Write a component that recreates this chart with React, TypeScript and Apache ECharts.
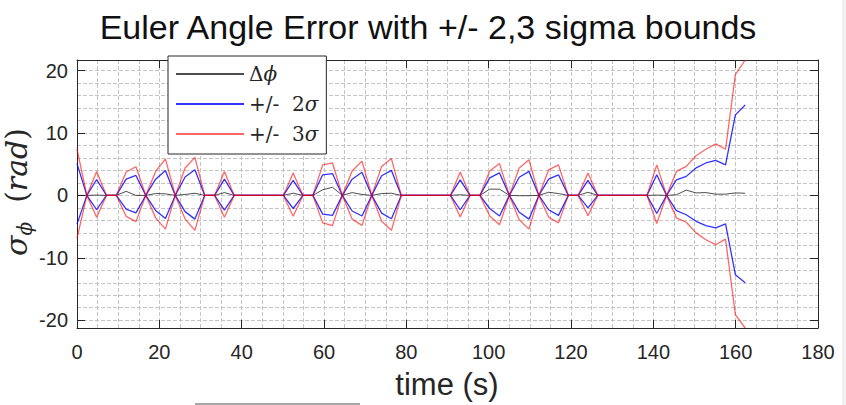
import React, { useEffect, useRef } from 'react';
import * as echarts from 'echarts';

// time stamps (s)
const times = [
  0, 2.39, 4.77, 7.16, 9.55, 11.94, 14.32, 16.71, 19.1, 21.48,
  23.87, 26.26, 28.64, 31.03, 33.42, 35.81, 38.19, 40.58, 42.97, 45.35,
  47.74, 50.13, 52.51, 54.9, 57.29, 59.68, 62.06, 64.45, 66.84, 69.22,
  71.61, 74.0, 76.38, 78.77, 81.16, 83.55, 85.93, 88.32, 90.71, 93.09,
  95.48, 97.87, 100.25, 102.64, 105.03, 107.42, 109.8, 112.19, 114.58, 116.96,
  119.35, 121.74, 124.12, 126.51, 128.9, 131.29, 133.67, 136.06, 138.45, 140.83,
  143.22, 145.61, 147.99, 150.38, 152.77, 155.16, 157.54, 159.93, 162.32,
];

// Δφ error
const deltaPhi = [
  0, 0, 0.05, 0, 0, 0.65, 0, 0, 0.3, 0.25,
  0, 0.15, 0.35, 0, 0, 0.45, 0, 0, 0, 0,
  0, 0, 0.35, 0, 0, 0.9, 1.3, 0, 0.45, 0.15,
  0, 0.3, 0.35, 0, 0, 0, 0, 0, 0, 0.1,
  0, 0, 1.0, 1.0, 0, -0.05, -0.05, 0, 0.5, 0.3,
  0, 0, 0.5, 0, 0, 0, 0, 0, 0, 0.05,
  0, 0.1, 0.85, 0.4, 0.45, 0.2, 0.2, 0.4, 0.35,
];

// +2 sigma bound
const sigma2Upper = [
  5.1, 0, 2.55, 0, 0, 2.6, 3.2, 0, 2.6, 4.0,
  0, 2.95, 4.1, 0, 0, 2.6, 0, 0, 0, 0,
  0, 0, 2.4, 0, 0, 3.3, 3.5, 0, 2.6, 3.7,
  0, 3.15, 4.0, 0, 0, 0, 0, 0, 0, 2.5,
  0, 0, 2.8, 3.6, 0, 2.9, 3.85, 0, 2.6, 3.3,
  0, 0, 2.4, 0, 0, 0, 0, 0, 0, 3.3,
  0, 2.5, 3.05, 4.4, 5.2, 5.6, 4.9, 12.9, 14.5,
];

// -2 sigma bound
const sigma2Lower = [
  -4.6, 0, -2.3, 0, 0, -2.2, -2.8, 0, -2.4, -3.7,
  0, -2.6, -3.8, 0, 0, -2.35, 0, 0, 0, 0,
  0, 0, -2.1, 0, 0, -3.0, -3.2, 0, -2.5, -3.3,
  0, -2.85, -3.75, 0, 0, 0, 0, 0, 0, -2.3,
  0, 0, -2.1, -3.3, 0, -2.7, -3.8, 0, -2.3, -3.2,
  0, 0, -2.0, 0, 0, 0, 0, 0, 0, -2.9,
  0, -2.45, -3.1, -4.15, -4.85, -5.2, -4.55, -12.7, -14.0,
];

// +3 sigma bound
const sigma3Upper = [
  7.4, 0, 3.85, 0, 0, 3.75, 4.6, 0, 3.85, 5.85,
  0, 4.4, 6.1, 0, 0, 3.85, 0, 0, 0, 0,
  0, 0, 3.6, 0, 0, 4.9, 5.2, 0, 3.9, 5.5,
  0, 4.65, 5.9, 0, 0, 0, 0, 0, 0, 3.75,
  0, 0, 3.9, 5.1, 0, 4.4, 5.7, 0, 4.1, 4.9,
  0, 0, 3.6, 0, 0, 0, 0, 0, 0, 4.9,
  0, 3.85, 4.65, 6.35, 7.4, 8.25, 7.4, 19.35, 21.7,
];

// -3 sigma bound
const sigma3Lower = [
  -6.9, 0, -3.5, 0, 0, -3.35, -4.2, 0, -3.6, -5.4,
  0, -3.8, -5.6, 0, 0, -3.5, 0, 0, 0, 0,
  0, 0, -3.35, 0, 0, -4.4, -4.85, 0, -3.8, -4.8,
  0, -4.15, -5.6, 0, 0, 0, 0, 0, 0, -3.45,
  0, 0, -3.3, -4.7, 0, -3.9, -5.4, 0, -3.5, -4.4,
  0, 0, -3.25, 0, 0, 0, 0, 0, 0, -4.5,
  0, -3.6, -4.3, -6.0, -7.1, -7.9, -7.0, -19.1, -21.25,
];

const yTicks = [-20, -10, 0, 10, 20];
const yMinorGrid = [-20, -18, -16, -14, -12, -10, -8, -6, -4, -2, 0, 2, 4, 6, 8, 10, 12, 14, 16, 18, 20];
const legendNames = ['Δϕ', '+/- 2σ', '+/- 3σ'];

export default function App() {
  const ref = useRef<HTMLDivElement>(null);
  useEffect(() => {
    const chart = echarts.init(ref.current!, null, { renderer: 'svg' });
    const pairs = (vals: number[]) => times.map((t, i) => [t, vals[i]]);
    const axisColor = '#262626';
    const gridLine = { type: [4, 2], color: '#c4c4c4', width: 1 };
    const tickFont = { fontSize: 20, fontFamily: 'Liberation Sans', color: axisColor };
    const yMin = -21.25;
    const yMax = 21.7;
    const lineSeries = (name: string, vals: number[], color: string, opacity: number, width: number) => ({
      type: 'line',
      name,
      data: pairs(vals),
      symbol: 'none',
      color,
      lineStyle: { color, width, opacity },
      itemStyle: { color, opacity },
      clip: true,
      silent: true,
    });
    chart.setOption({
      animation: false,
      backgroundColor: '#ffffff',
      grid: { left: 77, right: 28, top: 60, bottom: 77, outerBoundsMode: 'none', containLabel: false },
      legend: {
        data: legendNames,
        orient: 'vertical',
        left: 168,
        top: 56,
        padding: [8, 8, 10, 7],
        itemWidth: 68,
        itemHeight: 20,
        itemGap: 10,
        backgroundColor: '#ffffff',
        borderColor: axisColor,
        borderWidth: 1,
        borderRadius: 0,
        selectedMode: false,
        itemStyle: { opacity: 0 },
        formatter: (name: string) => {
          if (name === legendNames[0]) return '{g|Δ}{i|ϕ}';
          if (name === legendNames[1]) return '{g|+/-  2}{i|σ}';
          return '{g|+/-  3}{i|σ}';
        },
        textStyle: {
          color: axisColor,
          rich: {
            g: { fontFamily: 'DejaVu Serif', fontSize: 20, color: axisColor },
            i: { fontFamily: 'DejaVu Serif', fontSize: 20, fontStyle: 'italic', color: axisColor },
          },
        },
      },
      xAxis: [
        {
          type: 'value',
          min: 0,
          max: 180,
          interval: 20,
          position: 'bottom',
          axisLine: { show: true, onZero: false, lineStyle: { color: axisColor, width: 1 } },
          axisTick: { show: true, inside: true, length: 8, lineStyle: { color: axisColor } },
          axisLabel: { ...tickFont, margin: 14 },
          splitLine: { show: true, lineStyle: gridLine },
          minorTick: { show: false, splitNumber: 4 },
          minorSplitLine: { show: true, lineStyle: gridLine },
        },
        {
          type: 'value',
          min: 0,
          max: 180,
          interval: 20,
          position: 'top',
          axisLine: { show: true, onZero: false, lineStyle: { color: axisColor, width: 1 } },
          axisTick: { show: true, inside: true, length: 8, lineStyle: { color: axisColor } },
          axisLabel: { show: false },
          splitLine: { show: false },
        },
      ],
      yAxis: [
        {
          type: 'value',
          min: yMin,
          max: yMax,
          position: 'left',
          axisLine: { show: true, onZero: false, lineStyle: { color: axisColor, width: 1 } },
          axisTick: { show: true, inside: true, length: 8, customValues: yTicks, lineStyle: { color: axisColor } },
          axisLabel: { ...tickFont, margin: 9, customValues: yTicks },
          splitLine: { show: true, lineStyle: gridLine },
        },
        {
          type: 'value',
          min: yMin,
          max: yMax,
          position: 'right',
          axisLine: { show: true, onZero: false, lineStyle: { color: axisColor, width: 1 } },
          axisTick: { show: true, inside: true, length: 8, customValues: yTicks, lineStyle: { color: axisColor } },
          axisLabel: { show: false },
          splitLine: { show: false },
        },
        {
          type: 'value',
          min: yMin,
          max: yMax,
          position: 'left',
          axisLine: { show: false },
          axisTick: { show: false, customValues: yMinorGrid },
          axisLabel: { show: false, customValues: yMinorGrid },
          splitLine: { show: true, lineStyle: gridLine },
        },
      ],
      series: [
        lineSeries(legendNames[0], deltaPhi, '#222222', 0.8, 1),
        lineSeries(legendNames[1], sigma2Upper, '#0000ff', 0.8, 1.3),
        lineSeries(legendNames[1], sigma2Lower, '#0000ff', 0.8, 1.3),
        lineSeries(legendNames[2], sigma3Upper, '#ff0000', 0.6, 1.3),
        lineSeries(legendNames[2], sigma3Lower, '#ff0000', 0.6, 1.3),
      ],
      graphic: [
        {
          type: 'text',
          x: 428,
          y: 27,
          style: {
            text: 'Euler Angle Error with +/- 2,3 sigma bounds',
            fontFamily: 'Liberation Sans',
            fontSize: 34,
            fill: '#111111',
            align: 'center',
            verticalAlign: 'middle',
          },
        },
        {
          type: 'text',
          x: 447,
          y: 384,
          style: {
            text: 'time (s)',
            fontFamily: 'Liberation Sans',
            fontSize: 31,
            fill: axisColor,
            align: 'center',
            verticalAlign: 'middle',
          },
        },
        {
          type: 'text',
          x: 16,
          y: 192,
          rotation: Math.PI / 2,
          style: {
            text: '{s|σ}{sub|ϕ}{n|  (}{s|rad}{n|)}',
            align: 'center',
            verticalAlign: 'middle',
            fill: axisColor,
            rich: {
              s: { fontFamily: 'DejaVu Serif', fontSize: 30, fontStyle: 'italic', fill: axisColor, lineHeight: 38, verticalAlign: 'middle' },
              n: { fontFamily: 'DejaVu Serif', fontSize: 30, fill: axisColor, lineHeight: 38, verticalAlign: 'middle' },
              sub: { fontFamily: 'DejaVu Serif', fontSize: 20, fontStyle: 'italic', fill: axisColor, lineHeight: 20, verticalAlign: 'bottom' },
            },
          },
        },
        {
          type: 'line',
          shape: { x1: 195, y1: 404, x2: 360, y2: 404 },
          style: { stroke: '#8a8a8a', lineWidth: 1.5 },
        },
        {
          type: 'rect',
          shape: { x: 842, y: 0, width: 4, height: 405 },
          style: { fill: '#f1f1f1' },
        },
      ],
    });
    return () => chart.dispose();
  }, []);
  return (
    <div
      ref={ref}
      style={{ position: 'fixed', left: 0, top: 0, width: 846, height: 405, background: '#ffffff' }}
    />
  );
}
